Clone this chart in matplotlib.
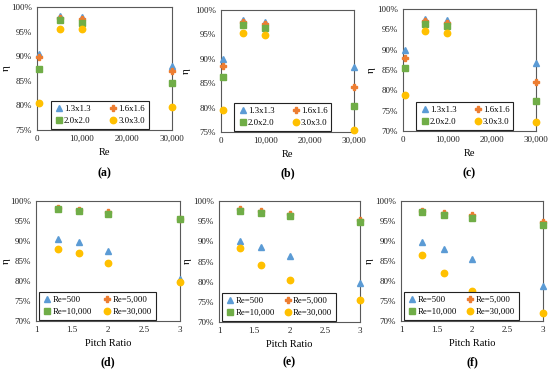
import numpy as np
import matplotlib
matplotlib.use("Agg")
import matplotlib.pyplot as plt
from matplotlib.ticker import FuncFormatter

plt.rcParams['font.family'] = ['Liberation Serif', 'DejaVu Serif']

# Reynolds numbers and pitch ratios
re_vals = [500, 5000, 10000, 30000]
pitch = [1.3, 1.6, 2.0, 3.0]
pitch_names = ['1.3x1.3', '1.6x1.6', '2.0x2.0', '3.0x3.0']
re_names = ['Re=500', 'Re=5,000', 'Re=10,000', 'Re=30,000']

# efficiency (%) rows = pitch ratio, columns = Re
eta_1 = [[90.5, 98.2, 98.0, 88.1],
         [89.8, 97.8, 97.5, 87.0],
         [87.5, 97.3, 96.8, 84.6],
         [80.5, 95.6, 95.6, 79.7]]
eta_2 = [[90.0, 97.9, 97.6, 88.3],
         [88.6, 97.5, 97.1, 84.2],
         [86.3, 96.9, 96.4, 80.4],
         [79.6, 95.2, 94.8, 75.4]]
eta_3 = [[89.8, 97.6, 97.3, 86.6],
         [88.0, 97.0, 96.6, 82.0],
         [85.5, 96.4, 95.7, 77.5],
         [78.8, 94.7, 94.0, 72.1]]

colors = ['#5B9BD5', '#ED7D31', '#70AD47', '#FFC000']
markers = ['^', 'P', 's', 'o']
msizes = [4.2, 4.0, 4.4, 4.6]

fig = plt.figure(figsize=(5.5, 3.72), dpi=100)
W, H = 550.0, 372.0

def add_ax(l, r, t, b):
    return fig.add_axes([l / W, 1 - b / H, (r - l) / W, (b - t) / H])

def style(ax, ylo, eta_x, t, b):
    for s in ax.spines.values():
        s.set_color('#595959')
        s.set_linewidth(0.8)
    ax.tick_params(length=0, labelsize=6.5, pad=3.5, colors='#222222')
    ax.set_ylim(ylo, 100)
    ax.set_yticks(np.arange(ylo, 100.1, 5))
    ax.yaxis.set_major_formatter(FuncFormatter(lambda v, p: '%d%%' % v))
    # eta label put by hand so it stays inside the figure
    fig.text(eta_x / W, 1 - (t + b) / 2 / H, 'η', rotation=90, fontsize=8,
             ha='center', va='center')

def legend(ax, handles, labels, x0, w):
    # excel fills rows first, matplotlib fills columns first
    order = [0, 2, 1, 3]
    ax.legend([handles[i] for i in order], [labels[i] for i in order],
              loc='lower left', bbox_to_anchor=(x0, 0.01, w, 0.2),
              mode='expand', ncol=2, fontsize=6.3, frameon=True, fancybox=False,
              edgecolor='#222222', framealpha=1, borderpad=0.45, handletextpad=0.1,
              handlelength=1.0, labelspacing=0.45, columnspacing=0.5,
              borderaxespad=0).get_frame().set_linewidth(0.8)

top_boxes = [(37, 172, 7, 130, 75), (221, 354, 10, 132, 75), (403, 536, 9, 131, 70)]
bot_boxes = [(36, 180, 201, 321), (219, 360, 201, 322), (401, 543, 201, 321)]
top_eta_x = [6, 186, 371]
bot_eta_x = [6, 187, 369]
datasets = [eta_1, eta_2, eta_3]
top_tags = ['(a)', '(b)', '(c)']
bot_tags = ['(d)', '(e)', '(f)']

for k, data in enumerate(datasets):
    data = np.array(data)
    # top row: eta vs Re
    l, r, t, b, ylo = top_boxes[k]
    ax = add_ax(l, r, t, b)
    hs = []
    for i in range(4):
        h, = ax.plot(re_vals, data[i], linestyle='none', marker=markers[i],
                     color=colors[i], markersize=msizes[i], clip_on=False, zorder=3)
        hs.append(h)
    ax.set_xlim(0, 30000)
    ax.set_xticks([0, 10000, 20000, 30000])
    ax.xaxis.set_major_formatter(FuncFormatter(lambda v, p: '{:,.0f}'.format(v)))
    style(ax, ylo, top_eta_x[k], t, b)
    ax.set_xlabel('Re', fontsize=7.5, labelpad=4)
    legend(ax, hs, pitch_names, 0.10, 0.73)
    fig.text((l + r) / 2 / W, 1 - 173 / H, top_tags[k], ha='center', va='center',
             fontsize=8.5, fontweight='bold')

    # bottom row: eta vs pitch ratio
    l, r, t, b = bot_boxes[k]
    ax = add_ax(l, r, t, b)
    hs = []
    for j in range(4):
        h, = ax.plot(pitch, data[:, j], linestyle='none', marker=markers[j],
                     color=colors[j], markersize=msizes[j], clip_on=False, zorder=3)
        hs.append(h)
    ax.set_xlim(1, 3)
    ax.set_xticks([1, 1.5, 2, 2.5, 3])
    ax.xaxis.set_major_formatter(FuncFormatter(lambda v, p: ('%g' % v)))
    style(ax, 70, bot_eta_x[k], t, b)
    ax.set_xlabel('Pitch Ratio', fontsize=7.5, labelpad=4)
    legend(ax, hs, re_names, 0.02, 0.81)
    fig.text((l + r) / 2 / W, 1 - 362 / H, bot_tags[k], ha='center', va='center',
             fontsize=8.5, fontweight='bold')

fig.savefig('out.png', dpi=100)
